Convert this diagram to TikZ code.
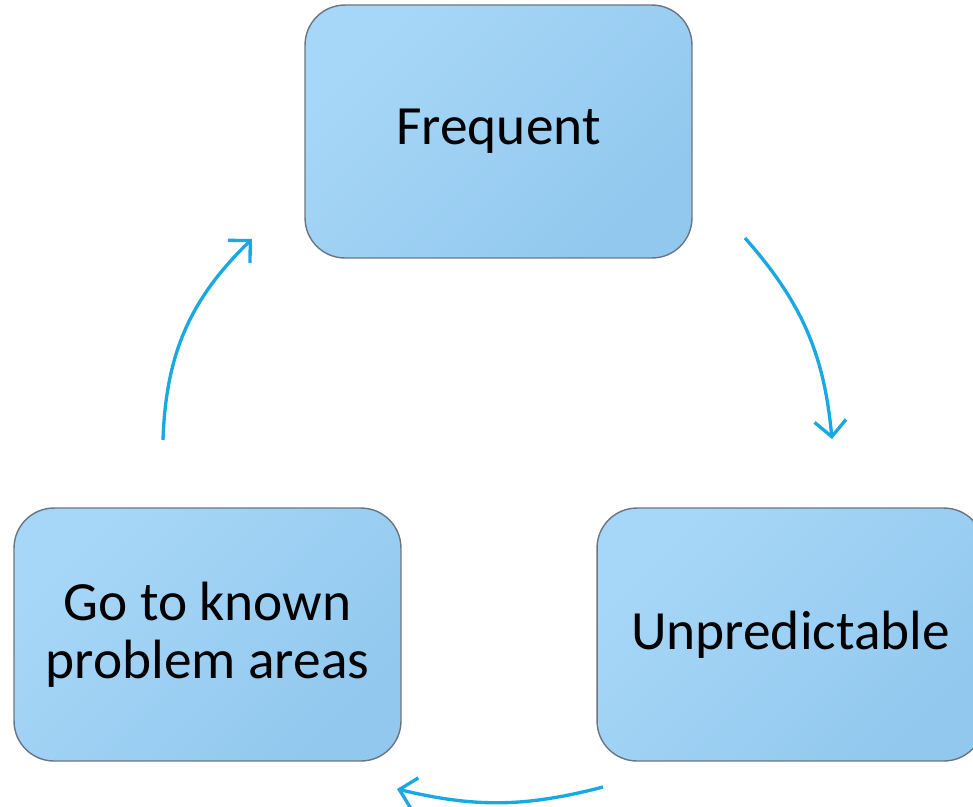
\documentclass[tikz,border=0pt]{standalone}
\usepackage{fontspec}
\setmainfont{Carlito}
\usetikzlibrary{arrows.meta}
\definecolor{boxA}{RGB}{167,215,248}
\definecolor{boxB}{RGB}{146,200,238}
\definecolor{boxline}{RGB}{105,118,130}
\definecolor{arrowc}{RGB}{26,168,226}
\tikzset{
  cyclebox/.style={draw=boxline, line width=0.8pt, rounded corners=0.8cm,
    minimum width=7.74cm, minimum height=5.06cm, inner sep=0pt,
    top color=boxA, middle color=boxA, bottom color=boxB, shading angle=45,
    align=center, font=\fontsize{31.5}{33}\selectfont},
  cyclearrow/.style={draw=arrowc, line width=1.9pt,
    -{Straight Barb[length=9pt,width=18pt,line width=1.9pt]}}
}
\begin{document}
\begin{tikzpicture}[x=0.02cm,y=-0.02cm]
\useasboundingbox (0,0) rectangle (973,806);
\clip (0,0) rectangle (973,806);
\node[cyclebox] (top) at (498.5,131.5) {Frequent};
\node[cyclebox] (left) at (207.5,634.5) {Go to known\\problem areas};
\node[cyclebox] (right) at (790.5,634.5) {Unpredictable};
\coordinate (r1) at (745,238);
\coordinate (r2) at (832,439);
\coordinate (b1) at (603,787);
\coordinate (b2) at (397,789);
\coordinate (l1) at (163,440);
\coordinate (l2) at (252,239);
\draw[cyclearrow] (r1) to[bend left=18] (r2);
\draw[cyclearrow] (b1) to[bend left=14] (b2);
\draw[cyclearrow] (l1) to[bend left=22] (l2);
\end{tikzpicture}
\end{document}
